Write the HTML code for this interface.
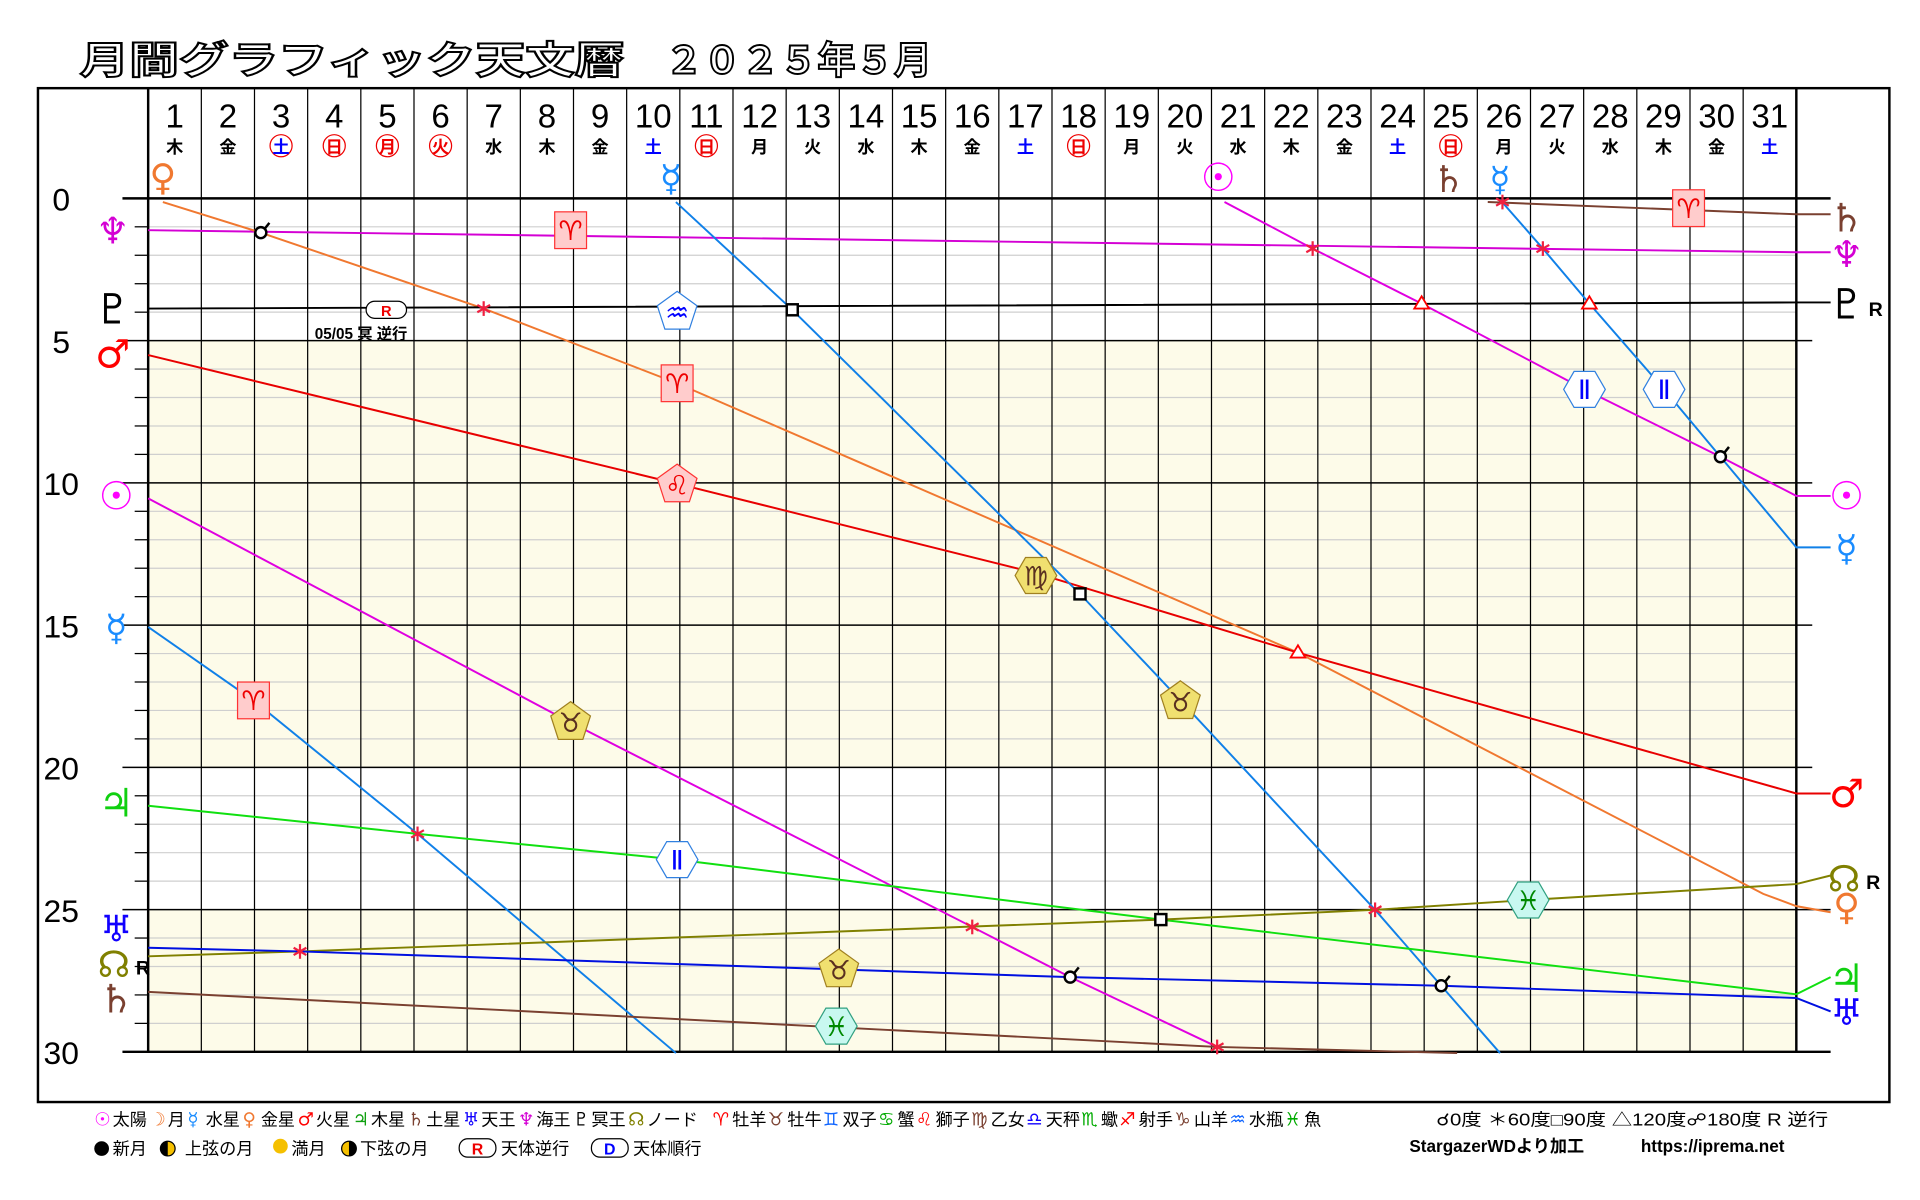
<!DOCTYPE html>
<html><head><meta charset="utf-8">
<style>
html,body{margin:0;padding:0;background:#fff;}
svg{display:block;}
text{font-family:"Liberation Sans","Noto Sans CJK JP",sans-serif;}
</style></head>
<body>
<svg id="s" width="1920" height="1200" viewBox="0 0 1568 980" preserveAspectRatio="none" xmlns="http://www.w3.org/2000/svg">
<rect x="0" y="0" width="1568" height="980" fill="#fff"/>
<text x="65" y="60" font-size="31" font-weight="bold" fill="#fff" stroke="#000" stroke-width="1.6" textLength="445" lengthAdjust="spacingAndGlyphs" style="font-family:'Noto Sans CJK JP',sans-serif">月間グラフィック天文暦</text>
<text x="543" y="60" font-size="31" font-weight="bold" fill="#fff" stroke="#000" stroke-width="1.6" textLength="218" lengthAdjust="spacingAndGlyphs" style="font-family:'Noto Sans CJK JP',sans-serif">２０２５年５月</text>
<rect x="31" y="72" width="1512" height="828" fill="none" stroke="#000" stroke-width="2"/>
<rect x="121" y="278.2" width="1346" height="348.5" fill="#fdfbe9"/>
<rect x="121" y="743" width="1346" height="116" fill="#fdfbe9"/>
<g id="grid"></g>
<g id="lines" fill="none" stroke-width="1.6"></g>
<g id="marks"></g>
<g id="hdr"></g>
</svg>
<script>
const NS="http://www.w3.org/2000/svg";
function el(p,t,a,txt){const e=document.createElementNS(NS,t);for(const k in a)e.setAttribute(k,a[k]);if(txt!==undefined)e.textContent=txt;document.getElementById(p).appendChild(e);return e;}
const X0=121,X1=1467,CW=(X1-X0)/31,Y0=162,DY=(859-162)/30;
const yd=d=>Y0+d*DY;
for(let d=1;d<30;d++){if(d%5==0)continue;el('grid','line',{x1:110,x2:X1,y1:yd(d),y2:yd(d),stroke:'#cfcfcf','stroke-width':1});el('grid','line',{x1:110,x2:X0,y1:yd(d),y2:yd(d),stroke:'#000','stroke-width':1});}
for(let k=0;k<=31;k++){const x=X0+k*CW;el('grid','line',{x1:x,x2:x,y1:72,y2:859,stroke:'#000','stroke-width':(k==0||k==31)?2:1});}
for(let d=0;d<=30;d+=5){const y=yd(d);el('grid','line',{x1:100,x2:(d==0||d==30||d==25)?1495:1480,y1:y,y2:y,stroke:'#000','stroke-width':(d==0||d==30)?2:1.2});
el('grid','text',{x:50,y:y+10,'font-size':26,'text-anchor':'middle',fill:'#000'},String(d));}
const wd=['木','金','土','日','月','火','水'];
for(let i=0;i<31;i++){const x=X0+(i+0.5)*CW;const w=wd[i%7];
el('hdr','text',{x:x,y:104,'font-size':27,'text-anchor':'middle',fill:'#000'},String(i+1));
let col='#000';if(w=='土')col='#00f';
const hol=[3,4,5,6,11,18,25].includes(i+1);
if(hol){col='#e00';el('hdr','circle',{cx:x,cy:119,r:9,fill:'none',stroke:'#e00','stroke-width':1});}
if(i+1==3){col='#00f';}
el('hdr','text',{x:x,y:125,'font-size':14,'font-weight':'bold','text-anchor':'middle',fill:col},w);}
const L=[
['#d400d4',[[121,188],[1467,206],[1495,206]]],
['#f07830',[[133,165],[213,190],[395,252],[553,313],[1060,533],[1440,730],[1467,740],[1495,745]]],
['#000',[[121,252],[1467,247],[1495,247]]],
['#e80000',[[121,290],[553,395],[846,468],[1060,533],[1467,648],[1495,648]]],
['#e000e0',[[121,407],[466,590],[794,757],[874,798],[994,855]]],
['#e000e0',[[1000,165],[1072,203],[1161,248],[1294,318],[1405,373],[1467,405],[1495,405]]],
['#1080e8',[[121,512],[207,572],[341,681],[552,860]]],
['#1080e8',[[552,165],[647,253],[882,485],[964,572],[1123,743],[1177,805],[1225,860]]],
['#1080e8',[[1225,163],[1260,203],[1298,248],[1359,318],[1405,373],[1467,447],[1495,447]]],
['#10e010',[[121,658],[341,681],[553,702],[948,751],[1467,812],[1495,798]]],
['#808000',[[121,781],[245,777],[948,751],[1123,743],[1248,735],[1467,722],[1495,715]]],
['#0010e0',[[121,774],[245,777],[874,798],[1177,805],[1467,815],[1495,826]]],
['#7a4030',[[121,810],[994,855],[1190,860]]],
['#7a4030',[[1215,165],[1467,175],[1495,175]]],
];
for(const [c,p] of L)el('lines','polyline',{points:p.map(q=>q.join(',')).join(' '),stroke:c});
function g(x,y,t,c,s,extra){el('marks','text',{x:x,y:y,'font-size':s||30,'text-anchor':'middle',fill:c,'font-weight':'bold',style:"font-family:'DejaVu Sans',sans-serif"},t);if(extra)el('marks','text',{x:x+18,y:y-2,'font-size':16,'font-weight':'bold',fill:'#000'},extra);}
g(92,199,'♆','#d400d4',30);g(92,264,'♇','#000',34);g(92,300,'♂','#f00',32);g(95,416,'☉','#f0f',32);
g(95,523,'☿','#1a8cff',30);g(95,667,'♃','#10d010',32);g(95,769,'♅','#10f',30);g(93,798,'☊','#808000',30,'R');g(95,827,'♄','#7a4030',32);
g(133,155,'♀','#f07830',30);g(548,156,'☿','#1a8cff',30);g(995,156,'☉','#f0f',32);g(1183,157,'♄','#7a4030',30);g(1225,156,'☿','#1a8cff',28);
g(1508,189,'♄','#7a4030',32);g(1508,218,'♆','#d400d4',30);g(1508,260,'♇','#000',34,'R');g(1508,416,'☉','#f0f',32);g(1508,458,'☿','#1a8cff',30);
g(1508,659,'♂','#f00',32);g(1506,728,'☊','#808000',30,'R');g(1508,751,'♀','#f07830',30);g(1508,810,'♃','#10d010',32);g(1508,837,'♅','#10f',30);
function poly(n,cx,cy,r,rot){let p=[];for(let i=0;i<n;i++){const a=rot+i*2*Math.PI/n;p.push((cx+r*Math.cos(a)).toFixed(1)+','+(cy+r*Math.sin(a)).toFixed(1));}return p.join(' ');}
function sign(type,cx,cy,t,fill,stroke,tc){
 if(type=='sq')el('marks','rect',{x:cx-13,y:cy-15,width:26,height:30,fill:fill,stroke:stroke,'stroke-width':1});
 else if(type=='pent')el('marks','polygon',{points:poly(5,cx,cy,17,-Math.PI/2),fill:fill,stroke:stroke,'stroke-width':1});
 else el('marks','polygon',{points:poly(6,cx,cy,17,0),fill:fill,stroke:stroke,'stroke-width':1});
 el('marks','text',{x:cx,y:cy+8,'font-size':22,'text-anchor':'middle',fill:tc,style:"font-family:'DejaVu Sans',sans-serif"},t);}
const R=['#fcc','#f33','#e00'],Y=['#f0e070','#a08020','#5a3020'],B=['#fff','#3080e0','#00f'],T=['#c8f8f0','#30a080','#080'];
sign('sq',466,188,'♈',...R);sign('sq',553,313,'♈',...R);sign('sq',207,572,'♈',...R);sign('sq',1379,170,'♈',...R);
sign('pent',553,396,'♌',...R);sign('hex',846,470,'♍',...Y);
sign('pent',466,590,'♉',...Y);sign('pent',964,573,'♉',...Y);sign('pent',685,792,'♉',...Y);
sign('pent',553,255,'♒',...B);sign('hex',553,702,'Ⅱ',...B);sign('hex',1294,318,'Ⅱ',...B);sign('hex',1359,318,'Ⅱ',...B);
sign('hex',1248,735,'♓',...T);sign('hex',683,838,'♓',...T);
function conj(x,y){el('marks','circle',{cx:x,cy:y,r:4.5,fill:'#fff',stroke:'#000','stroke-width':2});el('marks','line',{x1:x+3,y1:y-3,x2:x+7,y2:y-8,stroke:'#000','stroke-width':2});}
function sex(x,y){for(const a of [0,60,120]){const r=a*Math.PI/180;el('marks','line',{x1:x-6*Math.sin(r),y1:y-6*Math.cos(r),x2:x+6*Math.sin(r),y2:y+6*Math.cos(r),stroke:'#f02040','stroke-width':1.8});}}
function sqr(x,y){el('marks','rect',{x:x-4.5,y:y-4.5,width:9,height:9,fill:'#fff',stroke:'#000','stroke-width':2});}
function tri(x,y){el('marks','polygon',{points:`${x-6},${y+4} ${x+6},${y+4} ${x},${y-6}`,fill:'#fff',stroke:'#f00','stroke-width':1.5});}
[[213,190],[1405,373],[874,798],[1177,805]].forEach(p=>conj(...p));
[[395,252],[1072,203],[1260,203],[341,681],[245,777],[794,757],[1123,743],[994,855],[1227,165]].forEach(p=>sex(...p));
[[647,253],[882,485],[948,751]].forEach(p=>sqr(...p));
[[1161,248],[1298,248],[1060,533]].forEach(p=>tri(...p));
el('marks','rect',{x:299,y:246,width:33,height:14,rx:7,fill:'#fff',stroke:'#000','stroke-width':1});
el('marks','text',{x:315.5,y:258,'font-size':12,'font-weight':'bold','text-anchor':'middle',fill:'#e00'},'R');
el('marks','text',{x:257,y:277,'font-size':12.5,'font-weight':'bold',fill:'#000'},'05/05 冥 逆行');
const lg=[['☉','#f0f','太陽'],['☽','#f07830','月'],['☿','#1a8cff','水星'],['♀','#f07830','金星'],['♂','#f00','火星'],['♃','#10a010','木星'],['♄','#7a4030','土星'],['♅','#10f','天王'],['♆','#d400d4','海王'],['♇','#000','冥王'],['☊','#808000','ノード']];
let x=77;
for(const [s,c,t] of lg){el('marks','text',{x:x,y:919,'font-size':15,fill:c,style:"font-family:'DejaVu Sans',sans-serif"},s);x+=15;el('marks','text',{x:x,y:919,'font-size':14,fill:'#000'},t);x+=t.length*14+2;}
x+=10;
const zs=[['♈','#f00','牡羊'],['♉','#7a4030','牡牛'],['♊','#16f','双子'],['♋','#0a0','蟹'],['♌','#f00','獅子'],['♍','#7a4030','乙女'],['♎','#10f','天秤'],['♏','#0a0','蠍'],['♐','#f00','射手'],['♑','#7a4030','山羊'],['♒','#16f','水瓶'],['♓','#0a0','魚']];
for(const [s,c,t] of zs){el('marks','text',{x:x,y:919,'font-size':15,fill:c,style:"font-family:'DejaVu Sans',sans-serif"},s);x+=16;el('marks','text',{x:x,y:919,'font-size':14,fill:'#000'},t);x+=t.length*14+1;}
el('marks','text',{x:1173,y:919,'font-size':14,fill:'#000',textLength:320,lengthAdjust:'spacingAndGlyphs'},'☌0度 ＊60度□90度 △120度☍180度 R 逆行');
el('marks','text',{x:1151,y:941,'font-size':14,'font-weight':'bold',fill:'#000'},'StargazerWDより加工');
el('marks','text',{x:1340,y:941,'font-size':14,'font-weight':'bold',fill:'#000'},'https://iprema.net');
el('marks','circle',{cx:83,cy:938,r:6,fill:'#000'});el('marks','text',{x:92,y:943,'font-size':14,fill:'#000'},'新月');
el('marks','circle',{cx:137,cy:938,r:6,fill:'#f5c000',stroke:'#000'});el('marks','path',{d:'M137,932 a6,6 0 0,0 0,12z',fill:'#000'});el('marks','text',{x:151,y:943,'font-size':14,fill:'#000'},'上弦の月');
el('marks','circle',{cx:229,cy:936,r:6,fill:'#f5c000'});el('marks','text',{x:238,y:943,'font-size':14,fill:'#000'},'満月');
el('marks','circle',{cx:285,cy:938,r:6,fill:'#f5c000',stroke:'#000'});el('marks','path',{d:'M285,932 a6,6 0 0,1 0,12z',fill:'#000'});el('marks','text',{x:294,y:943,'font-size':14,fill:'#000'},'下弦の月');
el('marks','rect',{x:375,y:930,width:30,height:15,rx:7,fill:'#fff',stroke:'#000'});el('marks','text',{x:390,y:943,'font-size':13,'font-weight':'bold','text-anchor':'middle',fill:'#e00'},'R');el('marks','text',{x:409,y:943,'font-size':14,fill:'#000'},'天体逆行');
el('marks','rect',{x:483,y:930,width:30,height:15,rx:7,fill:'#fff',stroke:'#000'});el('marks','text',{x:498,y:943,'font-size':13,'font-weight':'bold','text-anchor':'middle',fill:'#00f'},'D');el('marks','text',{x:517,y:943,'font-size':14,fill:'#000'},'天体順行');
</script>
</body></html>
